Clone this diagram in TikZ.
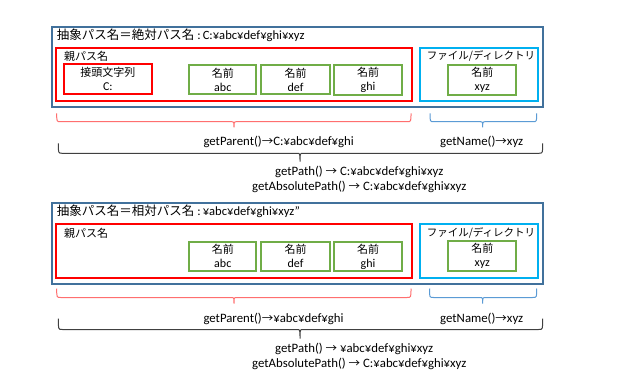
\documentclass[tikz,border=0pt]{standalone}
\usepackage{fontspec}
\setmainfont{Carlito}
\newfontfamily\jp{Noto Sans CJK JP}
\definecolor{outerblue}{HTML}{41719C}
\definecolor{boxgreen}{HTML}{70AD47}
\definecolor{filecyan}{HTML}{00B0F0}
\definecolor{bracered}{HTML}{FF6F6F}
\definecolor{braceblue}{HTML}{5B9BD5}
\definecolor{braceblack}{HTML}{404040}
\newcommand{\arr}{{\jp\fontsize{11.5}{13}\selectfont →}}
\newcommand{\mybrace}[7]{%
  \draw[#1, line width=1pt] (#2,#5) .. controls (#2,#6) .. (#2+4,#6) -- (#4-3,#6)
    .. controls (#4,#6) .. (#4,#7) .. controls (#4,#6) .. (#4+3,#6) -- (#3-4,#6)
    .. controls (#3,#6) .. (#3,#5);}
\tikzset{
  outerbox/.style={draw=outerblue, line width=2pt, anchor=north west, inner sep=0pt},
  parentbox/.style={draw=red, line width=2pt, anchor=north west, inner sep=0pt},
  filebox/.style={draw=filecyan, line width=2pt, anchor=north west, inner sep=0pt},
  namebox/.style={draw=boxgreen, line width=2pt, anchor=north west, inner sep=0pt,
    align=center, font=\fontsize{11}{14}\selectfont},
  prefixbox/.style={draw=red, line width=2pt, anchor=north west, inner sep=0pt,
    align=center, font=\fontsize{11}{14}\selectfont},
  lbl/.style={anchor=west, inner sep=0pt, font=\fontsize{12.8}{14}\selectfont},
  jlbl/.style={anchor=west, inner sep=0pt, font=\jp\fontsize{11}{13}\selectfont},
}
\newcommand{\lat}[1]{{\fontsize{12}{14}\selectfont #1}}
\newcommand{\tlat}[1]{{\fontsize{12.6}{14}\selectfont\hspace{3pt}:\hspace{2pt}#1}}
\begin{document}
\begin{tikzpicture}[x=1pt,y=-1pt]
\useasboundingbox[fill=white] (0,0) rectangle (631,379);

% ---------- top section ----------
\node[outerbox, minimum width=491.3pt, minimum height=80.5pt] (touter) at (50.7,26) {};
\node[parentbox, minimum width=356.3pt, minimum height=53pt] (tparent) at (54.7,47) {};
\node[prefixbox, minimum width=88.3pt, minimum height=29.5pt] (tprefix) at (62.7,63.5) {{\jp 接頭文字列}\\\lat{C:}};
\node[namebox, minimum width=67pt, minimum height=29pt] (tabc) at (188.3,64.3) {{\jp 名前}\\\lat{abc}};
\node[namebox, minimum width=68.4pt, minimum height=29pt] (tdef) at (260.3,64.3) {{\jp 名前}\\\lat{def}};
\node[namebox, minimum width=67.4pt, minimum height=29.5pt] (tghi) at (333.3,64.3) {{\jp 名前}\\\lat{ghi}};
\node[filebox, minimum width=118pt, minimum height=53.6pt] (tfile) at (418.7,46.7) {};
\node[namebox, minimum width=68pt, minimum height=30pt] (txyz) at (447.3,63.8) {{\jp 名前}\\\lat{xyz}};
\node[anchor=west, inner sep=0pt] (ttitle) at (56.7,35.7)
  {{\jp\fontsize{12.5}{14}\selectfont 抽象パス名＝絶対パス名}\tlat{C:¥abc¥def¥ghi¥xyz}};
\node[jlbl] (tplabel) at (64,56.5) {親パス名};
\node[anchor=center, inner sep=0pt, font=\jp\fontsize{10.5}{13}\selectfont] (tflabel) at (481,56) {ファイル/ディレクトリ};

\mybrace{bracered}{56.7}{411}{234}{113.3}{121.7}{127.3}
\mybrace{braceblue}{430}{536.7}{482.7}{113.3}{121.7}{127.3}
\mybrace{braceblack}{58.3}{542.7}{300}{143.3}{153.3}{161.7}
\node[lbl] (tgetparent) at (203.3,142.3) {getParent()\arr C:¥abc¥def¥ghi};
\node[lbl] (tgetname) at (440,142.3) {getName()\arr xyz};
\node[lbl] (tgetpath) at (275,172.3) {getPath() \arr\ C:¥abc¥def¥ghi¥xyz};
\node[lbl] (tgetabs) at (252,186.7) {getAbsolutePath() \arr\ C:¥abc¥def¥ghi¥xyz};

% ---------- bottom section ----------
\begin{scope}[shift={(0,176.5)}]
\node[outerbox, minimum width=491.3pt, minimum height=80.5pt] (bouter) at (50.7,26) {};
\node[parentbox, minimum width=356.3pt, minimum height=53pt] (bparent) at (54.7,47) {};
\node[namebox, minimum width=67pt, minimum height=29pt] (babc) at (188.3,64.3) {{\jp 名前}\\\lat{abc}};
\node[namebox, minimum width=68.4pt, minimum height=29pt] (bdef) at (260.3,64.3) {{\jp 名前}\\\lat{def}};
\node[namebox, minimum width=67.4pt, minimum height=29.5pt] (bghi) at (333.3,64.3) {{\jp 名前}\\\lat{ghi}};
\node[filebox, minimum width=118pt, minimum height=53.6pt] (bfile) at (418.7,46.7) {};
\node[namebox, minimum width=68pt, minimum height=30pt] (bxyz) at (447.3,63.8) {{\jp 名前}\\\lat{xyz}};
\node[anchor=west, inner sep=0pt] (btitle) at (56.7,34.5)
  {{\jp\fontsize{12.5}{14}\selectfont 抽象パス名＝相対パス名}\tlat{¥abc¥def¥ghi¥xyz”}};
\node[jlbl] (bplabel) at (64,56.8) {親パス名};
\node[anchor=center, inner sep=0pt, font=\jp\fontsize{10.5}{13}\selectfont] (bflabel) at (481,56) {ファイル/ディレクトリ};

\mybrace{bracered}{56.7}{411}{234}{112}{121}{127}
\mybrace{braceblue}{429.5}{536.7}{482.7}{112}{121}{127}
\mybrace{braceblack}{58.3}{542.7}{300}{142}{153}{162}
\node[lbl] (bgetparent) at (203.3,142) {getParent()\arr ¥abc¥def¥ghi};
\node[lbl] (bgetname) at (440,142) {getName()\arr xyz};
\node[lbl] (bgetpath) at (275,172) {getPath() \arr\ ¥abc¥def¥ghi¥xyz};
\node[lbl] (bgetabs) at (252,187.5) {getAbsolutePath() \arr\ C:¥abc¥def¥ghi¥xyz};
\end{scope}
\end{tikzpicture}
\end{document}
